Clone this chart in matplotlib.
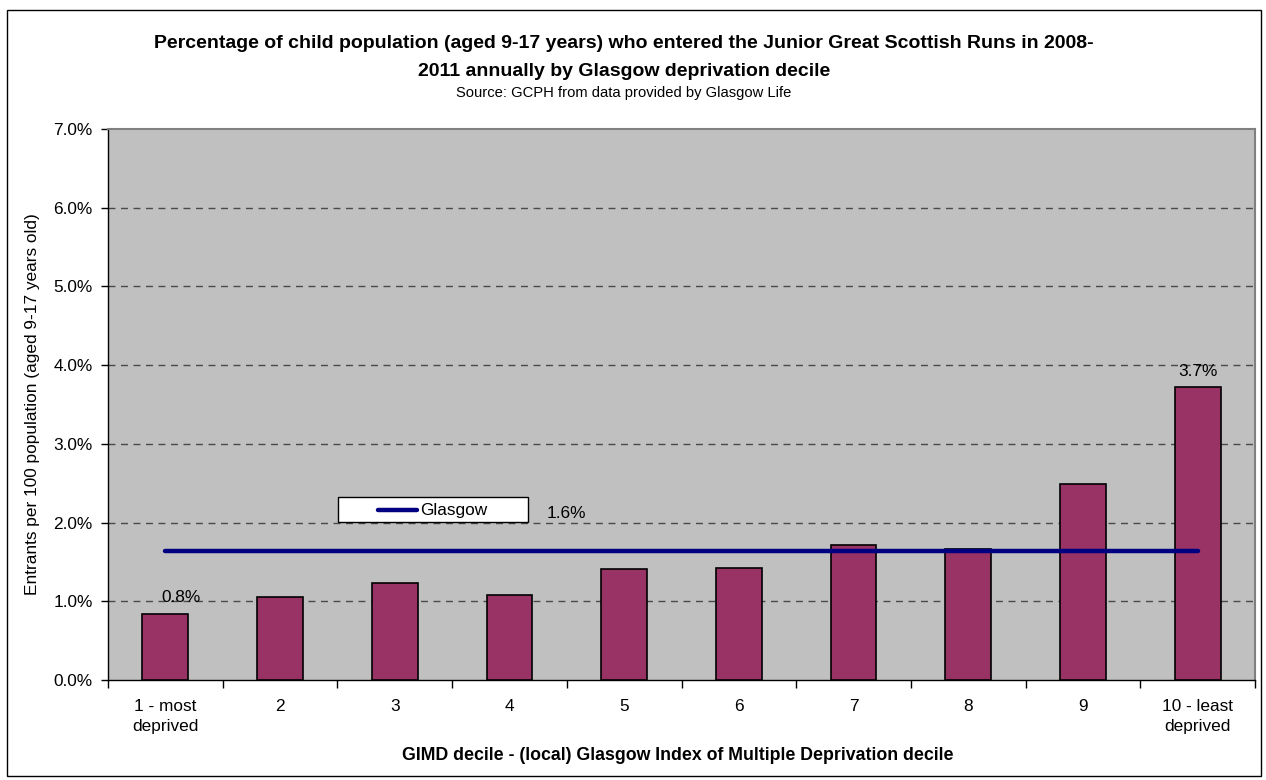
import numpy as np
import matplotlib
matplotlib.use("Agg")
import matplotlib.pyplot as plt
from matplotlib.patches import Rectangle
from matplotlib.lines import Line2D

plt.rcParams['font.family'] = ['Liberation Sans', 'DejaVu Sans']

# Data
decile_labels = ["1 - most\ndeprived", "2", "3", "4", "5", "6", "7", "8", "9",
                 "10 - least\ndeprived"]
entrant_rates = [0.84, 1.06, 1.23, 1.08, 1.41, 1.42, 1.71, 1.66, 2.49, 3.72]
glasgow_rate = 1.64
labelled_deciles = [0, 9]
y_ticks = [0, 1, 2, 3, 4, 5, 6, 7]

title_text = ("Percentage of child population (aged 9-17 years) who entered the Junior "
              "Great Scottish Runs in 2008-\n2011 annually by Glasgow deprivation decile")
source_text = "Source: GCPH from data provided by Glasgow Life"
x_label = "GIMD decile - (local) Glasgow Index of Multiple Deprivation decile"
y_label = "Entrants per 100 population (aged 9-17 years old)"

FS = 12.4  # base font size for axis text

W, H = 1266, 780
fig = plt.figure(figsize=(W / 100, H / 100), dpi=100)
fig.patch.set_facecolor("white")

# outer chart frame
fig.add_artist(Rectangle((7 / W, 1 - 776 / H), (1261 - 7) / W, (776 - 10) / H,
                         transform=fig.transFigure, fill=False, edgecolor="black",
                         linewidth=1.0))

left, right, top, bottom = 108, 1255, 129, 680
ax = fig.add_axes([left / W, 1 - bottom / H, (right - left) / W, (bottom - top) / H])
ax.set_facecolor("#C0C0C0")

x = np.arange(len(entrant_rates))
ax.bar(x, entrant_rates, width=0.4, color="#993366", edgecolor="black",
       linewidth=1.2, zorder=3)
ax.plot(x, [glasgow_rate] * len(x), color="#000080", linewidth=3.2,
        solid_capstyle="round", zorder=4)

ax.set_xlim(-0.5, len(x) - 0.5)
ax.set_ylim(y_ticks[0], y_ticks[-1])

# value labels
for i in labelled_deciles:
    dx = 0.14 if i == 0 else 0.0
    ax.text(x[i] + dx, entrant_rates[i] + 0.11, f"{entrant_rates[i]:.1f}%",
            ha="center", va="bottom", fontsize=FS, zorder=5)
ax.text(3.5, glasgow_rate + 0.48, f"{glasgow_rate:.1f}%", ha="center",
        va="center", fontsize=FS, zorder=5)

# y axis
ax.set_yticks(y_ticks)
ax.yaxis.set_major_formatter(lambda v, p: f"{v:.1f}%")
ax.tick_params(axis="y", direction="out", length=5, width=1, pad=6,
               labelsize=FS, colors="black")
ax.yaxis.grid(True, color="#4a4a4a", linewidth=1.0, linestyle=(0, (5, 4)), zorder=1)
gls = ax.get_ygridlines()
gls[0].set_visible(False)
gls[-1].set_visible(False)
ax.set_axisbelow(True)

# x axis: tick marks between categories, labels at centres
ax.set_xticks(np.arange(-0.5, len(x), 1.0))
ax.set_xticklabels([])
ax.set_xticks(x, minor=True)
ax.set_xticklabels(decile_labels, minor=True, fontsize=FS, linespacing=1.4)
ax.tick_params(axis="x", which="major", direction="out", length=6, width=1)
ax.tick_params(axis="x", which="minor", length=0, pad=14)

for s in ["left", "bottom"]:
    ax.spines[s].set_color("black")
    ax.spines[s].set_linewidth(1.0)
for s in ["top", "right"]:
    ax.spines[s].set_color("#808080")
    ax.spines[s].set_linewidth(1.5)

# legend box
lx0, lx1, ly0, ly1 = 338, 528, 497, 522
to_ax = lambda px, py: ((px - left) / (right - left), (bottom - py) / (bottom - top))
bx, by = to_ax(lx0, ly1)
bw = (lx1 - lx0) / (right - left)
bh = (ly1 - ly0) / (bottom - top)
ax.add_patch(Rectangle((bx, by), bw, bh, transform=ax.transAxes, facecolor="white",
                       edgecolor="black", linewidth=1.0, zorder=6))
hx0, hy = to_ax(378, 510)
hx1, _ = to_ax(417, 510)
ax.add_line(Line2D([hx0, hx1], [hy, hy], transform=ax.transAxes, color="#000080",
                   linewidth=3.2, solid_capstyle="round", zorder=7))
tx, _ = to_ax(420, 510)
ax.text(tx, hy, "Glasgow", transform=ax.transAxes, ha="left", va="center",
        fontsize=FS, zorder=7)

# axis titles
ax.set_ylabel(y_label, fontsize=FS)
ax.yaxis.set_label_coords((40 - left) / (right - left), 0.5)
fig.text(678 / W, 1 - 755 / H, x_label, ha="center", va="center", fontsize=12.8,
         fontweight="bold")

# chart title
fig.text(624 / W, 1 - 57.5 / H, title_text, ha="center", va="center", fontsize=14,
         fontweight="bold", linespacing=1.9)
fig.text(624 / W, 1 - 93 / H, source_text, ha="center", va="center", fontsize=10.6)

fig.savefig("out.png", dpi=100)
